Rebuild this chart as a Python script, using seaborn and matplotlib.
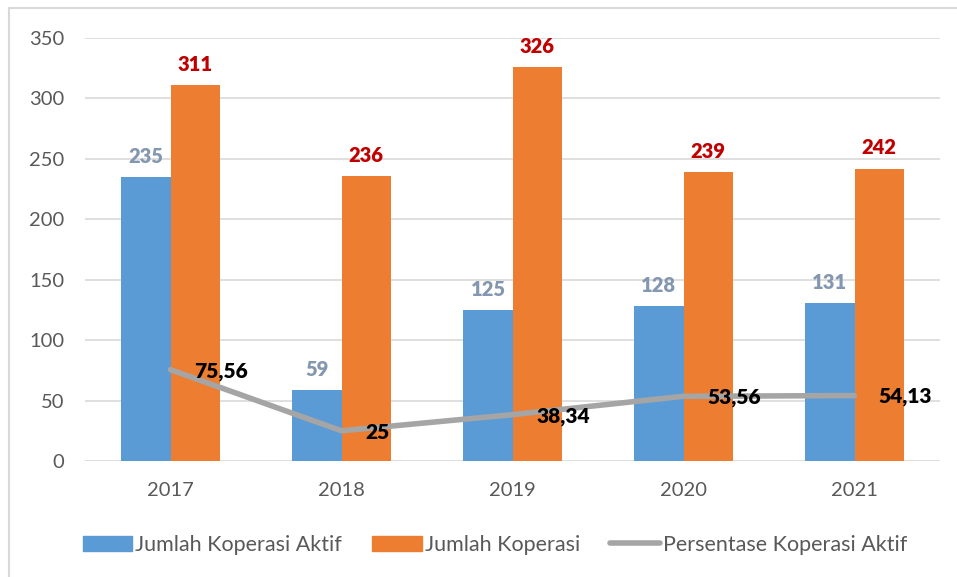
import matplotlib
matplotlib.use("Agg")
import matplotlib.pyplot as plt
import matplotlib.patches as mpatches
from matplotlib.lines import Line2D
import seaborn as sns
import pandas as pd
import numpy as np

# data
years = ['2017', '2018', '2019', '2020', '2021']
aktif = [235, 59, 125, 128, 131]
total = [311, 236, 326, 239, 242]
persen = [75.56, 25, 38.34, 53.56, 54.13]
series = ['Jumlah Koperasi Aktif', 'Jumlah Koperasi']
line_name = 'Persentase Koperasi Aktif'

blue = '#5B9BD5'
orange = '#ED7D31'
grey = '#A5A5A5'
txt = '#595959'

sns.set_theme(style='white')
plt.rcParams['font.family'] = ['Lato', 'DejaVu Sans']

df = pd.DataFrame({
    'year': years * 2,
    'value': aktif + total,
    'series': [series[0]] * len(years) + [series[1]] * len(years),
})

fig = plt.figure(figsize=(9.57, 5.77), dpi=100)
ax = fig.add_axes([85 / 957, 116 / 577, 855 / 957, 423 / 577])

sns.barplot(data=df, x='year', y='value', hue='series', order=years,
            hue_order=series, palette=[blue, orange], width=0.575, gap=0,
            saturation=1, edgecolor='none', legend=False, ax=ax)

xpos = np.arange(len(years))
sns.lineplot(x=xpos, y=persen, color=grey, linewidth=4, ax=ax, legend=False)

# value labels on bars
for i in range(len(years)):
    ax.annotate(str(aktif[i]), (xpos[i] - 0.1435, aktif[i]), xytext=(0, 8),
                textcoords='offset points', ha='center', va='bottom',
                fontsize=14.5, fontweight='heavy', color='#8497B0')
    ax.annotate(str(total[i]), (xpos[i] + 0.1435, total[i]), xytext=(0, 8),
                textcoords='offset points', ha='center', va='bottom',
                fontsize=14.5, fontweight='heavy', color='#C00000')
    lab = ('%g' % persen[i]).replace('.', ',')
    ax.annotate(lab, (xpos[i], persen[i]), xytext=(17, -1),
                textcoords='offset points', ha='left', va='center',
                fontsize=15, fontweight='heavy', color='black')

ax.set_xlim(-0.5, 4.5)
ax.set_ylim(0, 350)
ax.set_yticks(range(0, 351, 50))
ax.yaxis.grid(True, color='#D9D9D9', linewidth=1.2)
ax.set_axisbelow(True)
for s in ax.spines.values():
    s.set_visible(False)
ax.tick_params(axis='both', length=0, labelsize=14.5, colors=txt)
ax.tick_params(axis='y', pad=15)
ax.tick_params(axis='x', pad=15)
ax.set_xlabel('')
ax.set_ylabel('')

handles = [mpatches.Patch(color=blue), mpatches.Patch(color=orange),
           Line2D([0], [0], color=grey, linewidth=4)]
leg = fig.legend(handles, series + [line_name], loc='center',
                 bbox_to_anchor=(495 / 957, 32 / 577), ncol=3, frameon=False,
                 fontsize=15.5, handlelength=2.3, handletextpad=0.15,
                 columnspacing=1.4, labelcolor=txt)

# chart frame
fig.add_artist(plt.Rectangle((9 / 957, -0.1), 1.2, 1.1 - 8 / 577,
                             transform=fig.transFigure, fill=False,
                             edgecolor='#D9D9D9', linewidth=1.5))

fig.savefig('out.png', dpi=100)
